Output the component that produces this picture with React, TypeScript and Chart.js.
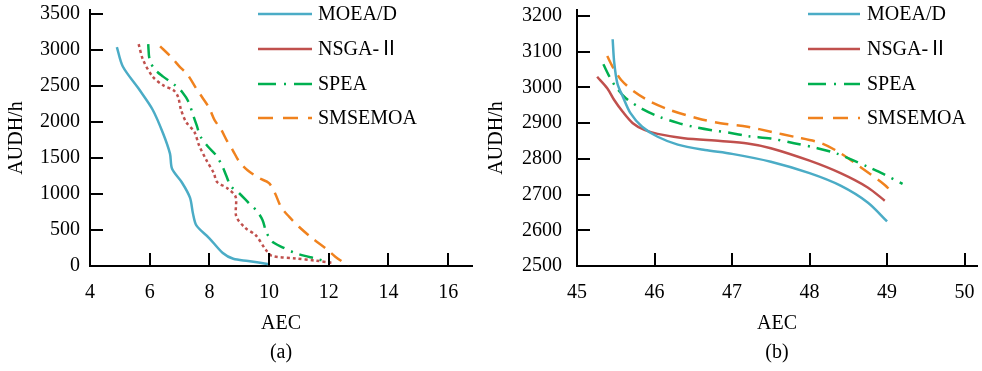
import { useEffect, useRef } from 'react';
import { Chart, registerables } from 'chart.js';

Chart.register(...registerables);

const FONT = "'Liberation Serif', 'Times New Roman', 'Noto Sans CJK SC', serif";

// ---- series names ----
const seriesNames = ['MOEA/D', 'NSGA-Ⅱ', 'SPEA', 'SMSEMOA'];

// ---- chart (a) ----
const aTicksX = [4, 6, 8, 10, 12, 14, 16];
const aTicksY = [0, 500, 1000, 1500, 2000, 2500, 3000, 3500];

const aMoeaX = [4.9, 5.1, 5.65, 6.1, 6.45, 6.68, 6.75, 7.08, 7.35, 7.45, 7.57, 8.0, 8.45, 8.8, 9.3, 10.0];
const aMoeaY = [3040, 2770, 2450, 2170, 1840, 1560, 1350, 1160, 950, 730, 560, 385, 180, 100, 70, 25];

const aNsgaX = [5.63, 5.78, 6.1, 6.45, 6.8, 6.95, 7.05, 7.22, 7.5, 7.65, 7.9, 8.15, 8.25, 8.6, 8.88, 8.9, 9.2, 9.55, 9.9, 10.1, 10.9, 11.55, 12.1];
const aNsgaY = [3080, 2860, 2630, 2510, 2440, 2350, 2170, 2000, 1860, 1680, 1470, 1290, 1170, 1080, 960, 690, 530, 430, 220, 140, 105, 75, 45];

const aSpeaX = [5.95, 6.0, 6.17, 6.45, 6.85, 7.1, 7.3, 7.45, 7.57, 7.7, 7.95, 8.22, 8.42, 8.56, 8.72, 9.0, 9.33, 9.58, 9.78, 9.9, 10.1, 10.45, 10.85, 11.2, 11.55, 12.05];
const aSpeaY = [3080, 2860, 2730, 2630, 2510, 2410, 2280, 2100, 1960, 1800, 1660, 1540, 1400, 1260, 1110, 1010, 870, 770, 640, 480, 340, 260, 185, 140, 105, 45];

const aSmsX = [6.35, 6.7, 7.0, 7.28, 7.55, 7.78, 8.0, 8.17, 8.4, 8.6, 8.78, 9.0, 9.28, 9.67, 10.0, 10.2, 10.4, 10.67, 11.0, 11.45, 11.9, 12.22, 12.65];
const aSmsY = [3050, 2910, 2770, 2650, 2470, 2330, 2190, 2030, 1890, 1730, 1610, 1450, 1330, 1220, 1150, 1010, 820, 685, 545, 385, 245, 130, 5];

// ---- chart (b) ----
const bTicksX = [45, 46, 47, 48, 49, 50];
const bTicksY = [2500, 2600, 2700, 2800, 2900, 3000, 3100, 3200];

const bMoeaX = [45.46, 45.48, 45.52, 45.59, 45.69, 45.84, 46.04, 46.3, 46.65, 47.0, 47.5, 48.0, 48.4, 48.75, 49.0];
const bMoeaY = [3135, 3070, 3012, 2975, 2928, 2890, 2862, 2840, 2825, 2814, 2792, 2760, 2725, 2678, 2625];

const bNsgaX = [45.26, 45.39, 45.48, 45.59, 45.72, 45.87, 46.04, 46.38, 46.85, 47.2, 47.5, 48.0, 48.4, 48.75, 48.97];
const bNsgaY = [3030, 2998, 2965, 2932, 2900, 2881, 2870, 2858, 2850, 2843, 2830, 2795, 2760, 2720, 2683];

const bSpeaX = [45.34, 45.42, 45.5, 45.63, 45.84, 46.06, 46.3, 46.5, 46.72, 47.0, 47.2, 47.5, 47.8, 48.1, 48.35, 48.55, 48.75, 48.95, 49.2];
const bSpeaY = [3065, 3030, 3002, 2970, 2940, 2918, 2901, 2890, 2881, 2872, 2864, 2857, 2844, 2830, 2815, 2797, 2778, 2758, 2730];

const bSmsX = [45.39, 45.46, 45.57, 45.74, 45.95, 46.2, 46.55, 46.85, 47.2, 47.5, 47.8, 48.15, 48.4, 48.65, 48.97, 49.08];
const bSmsY = [3088, 3058, 3021, 2988, 2960, 2937, 2914, 2900, 2890, 2876, 2862, 2844, 2816, 2778, 2727, 2702];

const COLORS = ['#4bacc6', '#c0504d', '#00b050', '#f0821e'];

type Series = { label: string; xs: number[]; ys: number[]; color: string; dash: number[]; legendDash: number[] };

type Cfg = {
  series: Series[];
  xMin: number; xMax: number; yMin: number; yMax: number;
  xTicks: number[]; yTicks: number[];
  yAxisWidth: number; yLabelGap: number; padRight: number;
  subTitle: string;
  legendX0: number; legendX1: number; legendTextX: number; legendRows: number[];
};

function makeChart(canvas: HTMLCanvasElement, c: Cfg) {
  const legendPlugin = {
    id: 'inlineLegend',
    afterDraw(chart: any) {
      const ctx = chart.ctx as CanvasRenderingContext2D;
      // inward tick marks
      const { chartArea, scales } = chart;
      ctx.save();
      ctx.strokeStyle = '#000';
      ctx.lineWidth = 2;
      ctx.setLineDash([]);
      c.xTicks.forEach((v) => {
        if (v === c.xMin) return;
        const px = Math.round(scales.x.getPixelForValue(v));
        ctx.beginPath();
        ctx.moveTo(px, chartArea.bottom);
        ctx.lineTo(px, chartArea.bottom - 13);
        ctx.stroke();
      });
      c.yTicks.forEach((v) => {
        if (v === c.yMin) return;
        const py = Math.round(scales.y.getPixelForValue(v));
        ctx.beginPath();
        ctx.moveTo(chartArea.left, py);
        ctx.lineTo(chartArea.left + 13, py);
        ctx.stroke();
      });
      ctx.restore();

      c.series.forEach((s, i) => {
        const y = c.legendRows[i];
        ctx.save();
        ctx.strokeStyle = s.color;
        ctx.lineWidth = 2.5;
        ctx.setLineDash(s.legendDash);
        ctx.beginPath();
        ctx.moveTo(c.legendX0, y);
        ctx.lineTo(c.legendX1, y);
        ctx.stroke();
        ctx.setLineDash([]);
        ctx.fillStyle = '#000';
        ctx.font = `20px ${FONT}`;
        ctx.textBaseline = 'middle';
        ctx.textAlign = 'left';
        ctx.fillText(s.label, c.legendTextX, y + 1);
        ctx.restore();
      });
    },
  };

  const tickFont = { family: FONT, size: 20, lineHeight: 1 };
  const gridCfg = {
    display: true,
    drawOnChartArea: false,
    drawTicks: false,
    tickLength: 0,
  };

  return new Chart(canvas, {
    type: 'scatter',
    data: {
      datasets: c.series.map((s) => ({
        label: s.label,
        data: s.xs.map((x, i) => ({ x, y: s.ys[i] })),
        borderColor: s.color,
        backgroundColor: s.color,
        borderWidth: 2.5,
        borderDash: s.dash,
        pointRadius: 0,
        showLine: true,
        tension: 0.3,
        fill: false,
      })),
    },
    options: {
      animation: false,
      responsive: false,
      devicePixelRatio: 1,
      layout: { padding: { left: 0, top: 10, right: c.padRight, bottom: 0 } },
      plugins: { legend: { display: false }, tooltip: { enabled: false } },
      scales: {
        x: {
          type: 'linear',
          min: c.xMin,
          max: c.xMax,
          afterBuildTicks: (s: any) => {
            s.ticks = c.xTicks.map((v) => ({ value: v }));
          },
          afterFit: (s: any) => {
            s.height = 105;
            s.paddingLeft = 0;
            s.paddingRight = 0;
          },
          grid: gridCfg,
          border: { display: true, color: '#000', width: 2 },
          ticks: {
            color: '#000',
            font: tickFont,
            padding: 17,
            maxRotation: 0,
            autoSkip: false,
            callback: (v: any) => String(v),
          },
          title: {
            display: true,
            text: ['AEC', c.subTitle],
            color: '#000',
            font: { family: FONT, size: 20, lineHeight: 1.45 },
            padding: { top: 0, bottom: 4 },
          },
        },
        y: {
          type: 'linear',
          min: c.yMin,
          max: c.yMax,
          afterBuildTicks: (s: any) => {
            s.ticks = c.yTicks.map((v) => ({ value: v }));
          },
          afterFit: (s: any) => {
            s.width = c.yAxisWidth;
            s.paddingTop = 0;
            s.paddingBottom = 0;
          },
          grid: gridCfg,
          border: { display: true, color: '#000', width: 2 },
          ticks: {
            color: '#000',
            font: tickFont,
            padding: c.yLabelGap,
            autoSkip: false,
            callback: (v: any) => String(v),
          },
          title: {
            display: true,
            text: 'AUDH/h',
            color: '#000',
            font: { family: FONT, size: 20, lineHeight: 1.2 },
            padding: { top: 5, bottom: 0 },
          },
        },
      },
    } as any,
    plugins: [legendPlugin],
  });
}

export default function App() {
  const leftRef = useRef<HTMLCanvasElement>(null);
  const rightRef = useRef<HTMLCanvasElement>(null);

  useEffect(() => {
    const legendRows = [14, 49, 84, 118];
    const aSeries: Series[] = [
      { label: seriesNames[0], xs: aMoeaX, ys: aMoeaY, color: COLORS[0], dash: [], legendDash: [] },
      { label: seriesNames[1], xs: aNsgaX, ys: aNsgaY, color: COLORS[1], dash: [3, 3], legendDash: [] },
      { label: seriesNames[2], xs: aSpeaX, ys: aSpeaY, color: COLORS[2], dash: [14, 7, 2, 7], legendDash: [18, 8, 2, 8] },
      { label: seriesNames[3], xs: aSmsX, ys: aSmsY, color: COLORS[3], dash: [13, 8], legendDash: [15, 10] },
    ];
    const bSeries: Series[] = [
      { label: seriesNames[0], xs: bMoeaX, ys: bMoeaY, color: COLORS[0], dash: [], legendDash: [] },
      { label: seriesNames[1], xs: bNsgaX, ys: bNsgaY, color: COLORS[1], dash: [], legendDash: [] },
      { label: seriesNames[2], xs: bSpeaX, ys: bSpeaY, color: COLORS[2], dash: [14, 7, 2, 7], legendDash: [18, 8, 2, 8] },
      { label: seriesNames[3], xs: bSmsX, ys: bSmsY, color: COLORS[3], dash: [14, 8], legendDash: [15, 10] },
    ];
    const a = makeChart(leftRef.current!, {
      series: aSeries,
      xMin: 4, xMax: 16.8, yMin: 0, yMax: 3555,
      xTicks: aTicksX, yTicks: aTicksY,
      yAxisWidth: 90, yLabelGap: 10, padRight: 8,
      subTitle: '(a)',
      legendX0: 258, legendX1: 312, legendTextX: 318, legendRows,
    });
    const b = makeChart(rightRef.current!, {
      series: bSeries,
      xMin: 45, xMax: 50.16, yMin: 2500, yMax: 3217,
      xTicks: bTicksX, yTicks: bTicksY,
      yAxisWidth: 97, yLabelGap: 15, padRight: 5,
      subTitle: '(b)',
      legendX0: 328, legendX1: 380, legendTextX: 387, legendRows,
    });
    return () => {
      a.destroy();
      b.destroy();
    };
  }, []);

  return (
    <div style={{ position: 'absolute', left: 0, top: 0, width: 982, height: 371, background: '#fff' }}>
      <canvas ref={leftRef} width={480} height={371} style={{ position: 'absolute', left: 0, top: 0 }} />
      <canvas ref={rightRef} width={502} height={371} style={{ position: 'absolute', left: 480, top: 0 }} />
    </div>
  );
}
